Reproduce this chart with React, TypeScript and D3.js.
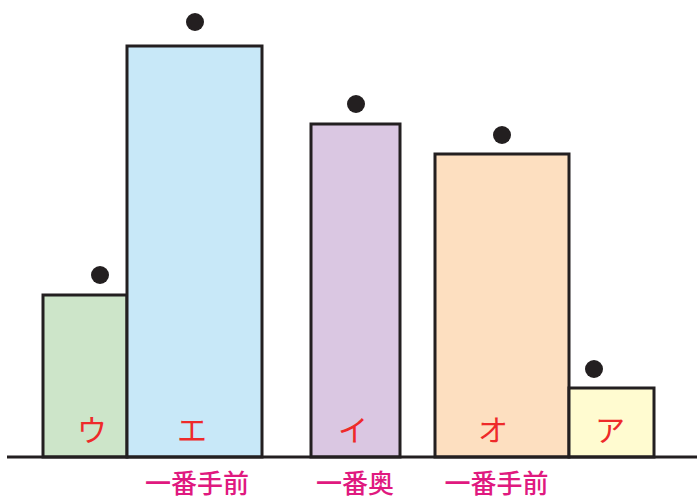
import React from "react";
import * as d3 from "d3";

const categories = ["ウ", "エ", "イ", "オ", "ア"];
const values = [162, 411, 333, 303, 69];
const dotValues = [182, 435, 353, 322, 88];
const dotPos = [93, 188, 349, 495, 587];
const barStart = [36, 120, 304, 428, 562];
const barEnd = [120, 255, 393, 562, 647];
const labelPos = [85, 185, 346, 486, 603];
const bottomLabels = ["", "一番手前", "一番奥", "一番手前", ""];
const bottomPos = [0, 190, 348, 489.5, 0];
const fills = ["#cde5c9", "#c8e8f8", "#dac7e2", "#fddfc0", "#fffbd0"];

const W = 697;
const H = 498;

export default function App() {
  const x = d3.scaleLinear().domain([0, 690]).range([7, 697]);
  const y = d3.scaleLinear().domain([0, 457]).range([457, 0]);
  const stroke = "#231f20";
  return (
    <svg
      width={W}
      height={H}
      style={{ position: "absolute", left: 0, top: 0, background: "#fff" }}
    >
      {categories.map((c, i) => (
        <rect
          key={"b" + i}
          x={x(barStart[i])}
          y={y(values[i])}
          width={x(barEnd[i]) - x(barStart[i])}
          height={y(0) - y(values[i])}
          fill={fills[i]}
          stroke={stroke}
          strokeWidth={3}
        />
      ))}
      <line x1={x(0)} x2={x(690)} y1={y(0)} y2={y(0)} stroke={stroke} strokeWidth={3} />
      {categories.map((c, i) => (
        <circle
          key={"d" + i}
          cx={x(dotPos[i])}
          cy={y(dotValues[i])}
          r={9}
          fill={stroke}
        />
      ))}
      {categories.map((c, i) => (
        <text
          key={"t" + i}
          x={x(labelPos[i])}
          y={y(29)}
          textAnchor="middle"
          dominantBaseline="central"
          fontFamily="'Noto Sans CJK JP', sans-serif"
          fontSize={30}
          fill="#ee2a2a"
        >
          {c}
        </text>
      ))}
      {bottomLabels.map((c, i) =>
        c ? (
          <text
            key={"l" + i}
            x={x(bottomPos[i])}
            y={y(-24)}
            textAnchor="middle"
            dominantBaseline="central"
            fontFamily="'Noto Sans CJK JP', sans-serif"
            fontSize={26}
            fontWeight={500}
            fill="#e0197f"
          >
            {c}
          </text>
        ) : null
      )}
    </svg>
  );
}
